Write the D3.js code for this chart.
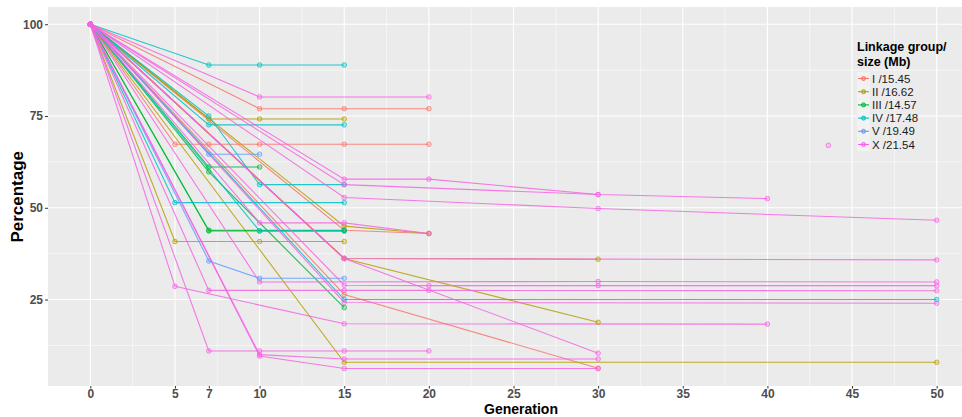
<!DOCTYPE html>
<html>
<head>
<meta charset="utf-8">
<script src="https://cdn.jsdelivr.net/npm/d3@7"></script>
<style>
  body { margin: 0; background: #fff; }
  svg text { font-family: "Liberation Sans", Arial, sans-serif; }
</style>
</head>
<body>
<svg id="chart"></svg>
<script>
// linkage groups (legend labels)
const groups = ["I /15.45", "II /16.62", "III /14.57", "IV /17.48", "V /19.49", "X /21.54"];
const palette = ["#F8766D", "#B79F00", "#00BA38", "#00BFC4", "#619CFF", "#F564E3"];

const xTicks = [0, 5, 7, 10, 15, 20, 25, 30, 35, 40, 45, 50];
const yTicks = [25, 50, 75, 100];

// each series: [generation, percentage] pairs
const seriesI = [
    [[0, 100], [10, 77.0], [15, 77.0], [20, 77.0]],
    [[0, 100], [5, 67.3], [7, 67.3], [10, 67.3], [15, 67.3], [20, 67.3]],
    [[0, 100], [15, 36.2]],
    [[0, 100], [15, 26.4], [30, 6.3]],
    [[0, 100], [15, 43.9], [20, 43.0]]
];
const seriesII = [
    [[0, 100], [7, 74.2], [10, 74.2], [15, 74.2]],
    [[0, 100], [5, 40.8], [10, 40.8], [15, 40.8]],
    [[0, 100], [15, 45.0], [20, 43.0]],
    [[0, 100], [15, 36.2], [30, 18.8]],
    [[0, 100], [15, 36.2], [30, 36.0]],
    [[0, 100], [15, 7.9], [50, 7.9]]
];
const seriesIII = [
    [[0, 100], [7, 61.1], [10, 61.1]],
    [[0, 100], [7, 59.8], [15, 22.8]],
    [[0, 100], [7, 43.7], [10, 43.7], [15, 43.7]],
    [[0, 100], [7, 43.9], [15, 43.9]]
];
const seriesIV = [
    [[0, 100], [7, 88.9], [10, 88.9], [15, 88.9]],
    [[0, 100], [7, 75.0], [10, 56.3], [15, 56.3]],
    [[0, 100], [7, 72.6], [15, 72.6]],
    [[0, 100], [5, 51.4], [15, 51.4]],
    [[0, 100], [10, 43.7], [15, 43.7]],
    [[0, 100], [15, 25.0], [50, 25.0]]
];
const seriesV = [
    [[0, 100], [7, 64.6], [10, 64.6]],
    [[0, 100], [7, 35.5], [10, 30.8], [15, 30.8]]
];
const seriesX = [
    [[0, 100], [10, 80.2], [20, 80.2]],
    [[0, 100], [15, 57.8], [20, 57.8], [30, 53.6], [40, 52.5]],
    [[0, 100], [15, 56.3], [30, 53.6]],
    [[0, 100], [15, 52.8], [30, 49.8], [50, 46.6]],
    [[0, 100], [10, 45.9], [15, 45.9], [20, 43.0]],
    [[0, 100], [15, 36.2], [50, 35.8]],
    [[0, 100], [15, 36.2], [30, 10.4]],
    [[0, 100], [10, 29.8], [30, 29.9], [50, 29.8]],
    [[0, 100], [15, 28.9], [20, 28.8], [30, 28.8], [50, 28.8]],
    [[0, 100], [7, 27.5], [15, 27.5], [20, 27.5], [50, 27.4]],
    [[0, 100], [15, 24.2], [50, 24.0]],
    [[0, 100], [5, 28.6], [15, 18.4], [40, 18.3]],
    [[0, 100], [7, 11.0], [10, 11.0], [15, 11.0], [20, 11.0]],
    [[0, 100], [10, 10.0], [15, 8.8], [30, 8.8]],
    [[0, 100], [10, 9.6], [15, 6.2], [30, 6.2]],
    [[43.6, 67.0]]
];

const allSeries = [seriesI, seriesII, seriesIII, seriesIV, seriesV, seriesX]
    .flatMap((list, g) => list.map(pts => ({group: groups[g], pts})));

const width = 962, height = 417;
const margin = {top: 7, left: 48, bottom: 31};
const svg = d3.select("#chart").attr("width", width).attr("height", height);

// ggplot style expansion: 5% of data range on each side
const x = d3.scaleLinear().domain([-2.5, 52.5]).range([margin.left, 979]);
const y = d3.scaleLinear().domain([1.45, 104.7]).range([height - margin.bottom, margin.top]);
const color = d3.scaleOrdinal().domain(groups).range(palette);

const panel = svg.append("g");
panel.append("rect")
    .attr("x", x(-2.5)).attr("y", y(104.7))
    .attr("width", x(52.5) - x(-2.5)).attr("height", y(1.45) - y(104.7))
    .attr("fill", "#EBEBEB");

// grid: minor first, then major
const xMinor = d3.range(2.5, 52.5, 5);
const xMajor = d3.range(0, 51, 5);
const yMinor = [12.5, 37.5, 62.5, 87.5];
panel.selectAll(".xminor").data(xMinor).join("line")
    .attr("x1", d => x(d)).attr("x2", d => x(d))
    .attr("y1", y(104.7)).attr("y2", y(1.45))
    .attr("stroke", "#fff").attr("stroke-width", 0.55);
panel.selectAll(".yminor").data(yMinor).join("line")
    .attr("y1", d => y(d)).attr("y2", d => y(d))
    .attr("x1", x(-2.5)).attr("x2", x(52.5))
    .attr("stroke", "#fff").attr("stroke-width", 0.55);
panel.selectAll(".xmajor").data(xMajor).join("line")
    .attr("x1", d => x(d)).attr("x2", d => x(d))
    .attr("y1", y(104.7)).attr("y2", y(1.45))
    .attr("stroke", "#fff").attr("stroke-width", 1.1);
panel.selectAll(".ymajor").data(yTicks).join("line")
    .attr("y1", d => y(d)).attr("y2", d => y(d))
    .attr("x1", x(-2.5)).attr("x2", x(52.5))
    .attr("stroke", "#fff").attr("stroke-width", 1.1);

const line = d3.line().x(d => x(d[0])).y(d => y(d[1]));

const marks = svg.append("g");
marks.selectAll("path").data(allSeries).join("path")
    .attr("d", d => line(d.pts))
    .attr("fill", "none")
    .attr("stroke", d => color(d.group))
    .attr("stroke-width", 1.1)
    .attr("stroke-opacity", 0.85);

const points = allSeries.flatMap(s => s.pts.map(p => ({group: s.group, p})));
marks.selectAll("circle").data(points).join("circle")
    .attr("cx", d => x(d.p[0]))
    .attr("cy", d => y(d.p[1]))
    .attr("r", 2.3)
    .attr("fill", d => color(d.group))
    .attr("fill-opacity", 0.25)
    .attr("stroke", d => color(d.group))
    .attr("stroke-opacity", 0.75)
    .attr("stroke-width", 1);

// axes
const xAxis = svg.append("g")
    .attr("transform", `translate(0,${y(1.45)})`)
    .call(d3.axisBottom(x).tickValues(xTicks).tickSize(2.5).tickPadding(1));
const yAxis = svg.append("g")
    .attr("transform", `translate(${x(-2.5)},0)`)
    .call(d3.axisLeft(y).tickValues(yTicks).tickSize(3).tickPadding(2));
[xAxis, yAxis].forEach(a => {
    a.select(".domain").remove();
    a.selectAll(".tick line").attr("stroke", "#333");
    a.selectAll(".tick text")
        .attr("fill", "#4D4D4D")
        .style("font-size", "12px")
        .style("font-weight", "bold");
});

svg.append("text")
    .attr("x", 521).attr("y", 413.8)
    .attr("text-anchor", "middle")
    .style("font-size", "14px").style("font-weight", "bold")
    .text("Generation");
svg.append("text")
    .attr("transform", `translate(23,${y(53)}) rotate(-90)`)
    .attr("text-anchor", "middle")
    .style("font-size", "17px").style("font-weight", "bold")
    .text("Percentage");

// legend
const legend = svg.append("g").attr("transform", "translate(857,0)");
legend.append("text").attr("x", 0).attr("y", 51)
    .style("font-size", "12.5px").style("font-weight", "bold")
    .text("Linkage group/");
legend.append("text").attr("x", 0).attr("y", 66)
    .style("font-size", "12.5px").style("font-weight", "bold")
    .text("size (Mb)");
const items = legend.selectAll(".item").data(groups).join("g")
    .attr("transform", (d, i) => `translate(0,${72 + i * 13.2})`);
items.append("rect").attr("width", 13).attr("height", 13).attr("fill", "#F2F2F2");
items.append("line").attr("x1", 1).attr("x2", 12).attr("y1", 6.5).attr("y2", 6.5)
    .attr("stroke", d => color(d)).attr("stroke-width", 1.1);
items.append("circle").attr("cx", 6.5).attr("cy", 6.5).attr("r", 2)
    .attr("fill", d => color(d)).attr("fill-opacity", 0.4)
    .attr("stroke", d => color(d)).attr("stroke-width", 1);
items.append("text").attr("x", 15).attr("y", 10.5)
    .style("font-size", "11.5px").attr("fill", "#1a1a1a")
    .text(d => d);
</script>
</body>
</html>
